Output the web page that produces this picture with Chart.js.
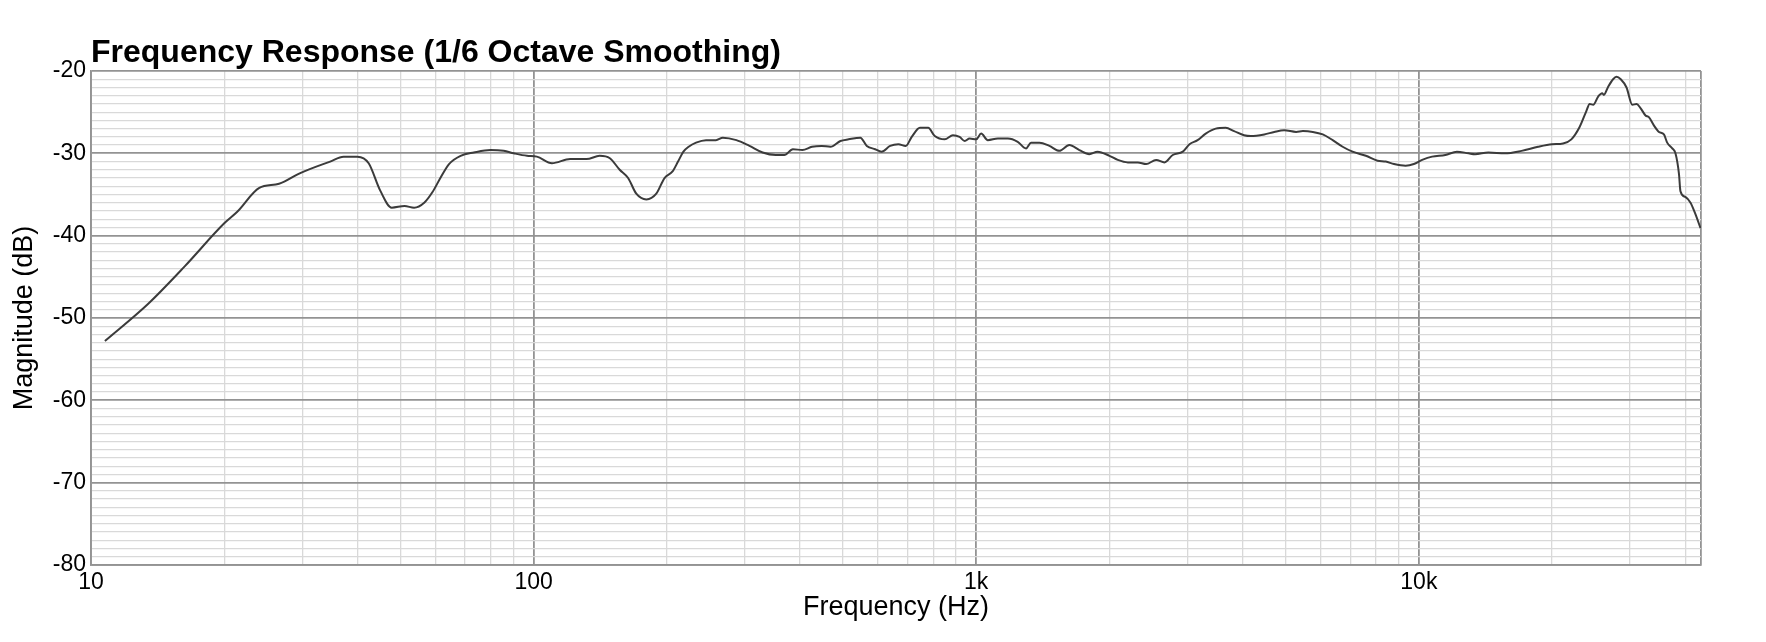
<!DOCTYPE html>
<html>
<head>
<meta charset="utf-8">
<title>Frequency Response</title>
<script src="https://cdn.jsdelivr.net/npm/chart.js@4.4.1/dist/chart.umd.min.js"></script>
<style>
  html, body { margin: 0; padding: 0; background: #fff; }
  #wrap { width: 1766px; height: 642px; }
</style>
</head>
<body>
<div id="wrap"><canvas id="frChart"></canvas></div>
<script>
const freqs = [
  10.75, 13.45, 16.3, 20, 21.4, 24.0, 26.6, 29.7, 34.7, 37.2,
  40, 42.4, 45, 47.8, 51.1, 53.7, 56.6, 59.1, 61.7, 64.4,
  68.4, 73.3, 79.9, 85.6, 90.2, 96.6, 101.7, 110, 120.9, 131.7,
  141, 148.7, 156.5, 163.5, 170.6, 179.8, 189.3, 197.6, 206, 212,
  218, 224, 232.8, 245.2, 258.2, 267.6, 287.2, 307.4, 329.2, 352.4,
  368.5, 385.3, 404.8, 425.6, 447.5, 468.3, 493.4, 514.9, 547.2, 566,
  591, 611, 639, 667, 693, 715, 746, 779, 806, 849,
  886, 917, 942, 966, 1000, 1026, 1062, 1119, 1179, 1241,
  1296, 1330, 1390, 1463, 1541, 1623, 1710, 1801, 1880, 2000,
  2088, 2200, 2318, 2420, 2550, 2663, 2780, 2929, 3033, 3163,
  3300, 3476, 3661, 3824, 4028, 4172, 4475, 4713, 4963, 5283,
  5470, 5760, 6066, 6388, 6727, 7085, 7591, 8065, 8417, 8787,
  9334, 9745, 10174, 10714, 11477, 12192, 12950, 13402, 14355, 15650,
  17065, 18600, 20000, 21180, 22110, 23080, 23890, 24320, 24770, 25420,
  25950, 26180, 26780, 27470, 27950, 28590, 29460, 30360, 31040, 31680,
  32520, 33090, 33960, 34870, 35780, 36400, 37370, 38000, 38700, 39000,
  40000, 41100, 42100, 43300
];
const magnitudes = [
  -52.8, -48.3, -43.7, -38.5, -37.1, -34.2, -33.7, -32.4, -31.0, -30.4,
  -30.4, -31.2, -34.5, -36.6, -36.4, -36.6, -36.0, -34.7, -32.9, -31.3,
  -30.3, -29.9, -29.6, -29.7, -30.0, -30.3, -30.4, -31.2, -30.7, -30.7,
  -30.3, -30.6, -32.0, -33.0, -34.9, -35.6, -34.9, -33.0, -32.2, -31.0,
  -29.8, -29.2, -28.7, -28.4, -28.4, -28.1, -28.4, -29.1, -29.9, -30.2,
  -30.2, -29.5, -29.6, -29.2, -29.1, -29.2, -28.5, -28.3, -28.1, -29.1,
  -29.5, -29.8, -29.1, -28.9, -29.1, -28.0, -26.9, -26.9, -27.9, -28.3,
  -27.8, -28.0, -28.5, -28.2, -28.3, -27.6, -28.4, -28.2, -28.2, -28.6,
  -29.4, -28.7, -28.7, -29.1, -29.7, -29.0, -29.6, -30.1, -29.8, -30.3,
  -30.8, -31.1, -31.1, -31.3, -30.8, -31.1, -30.2, -29.8, -28.9, -28.4,
  -27.6, -27.0, -26.9, -27.3, -27.8, -27.9, -27.7, -27.4, -27.2, -27.4,
  -27.3, -27.4, -27.7, -28.4, -29.2, -29.8, -30.3, -30.9, -31.0, -31.3,
  -31.5, -31.3, -30.8, -30.4, -30.2, -29.8, -30.0, -30.1, -29.9, -30.0,
  -29.7, -29.2, -28.9, -28.8, -28.3, -26.8, -24.9, -24.0, -24.1, -23.1,
  -22.7, -22.9, -21.9, -21.0, -20.7, -21.0, -22.0, -24.1, -24.0, -24.5,
  -25.4, -25.6, -26.6, -27.4, -27.7, -28.7, -29.4, -30.0, -32.5, -34.6,
  -35.3, -36.0, -37.3, -39.1
];

// Axis ticks and labels
const xMin = 10;
const xMax = 43400;
const xTickValues = [10, 100, 1000, 10000];
const xTickLabels = ['10', '100', '1k', '10k'];
const xGridSteps = [1, 2, 3, 4, 5, 6, 7, 8, 9];
const xDecades = [10, 100, 1000, 10000];
const yMin = -80;
const yMax = -20;
const yTickValues = [-80, -70, -60, -50, -40, -30, -20];

const MAJOR = '#939393';
const MINOR = '#d9d9d9';
const FONT = '"Liberation Sans", Arial, Helvetica, sans-serif';

// grid positions: every 1-9 x 10^n on x, every dB on y
const xGrid = [];
xDecades.forEach(d => xGridSteps.forEach(s => {
  if (d * s < xMax) xGrid.push(d * s);
}));
xGrid.push(xMax);
const yGrid = [];
for (let v = yMin; v <= yMax; v++) yGrid.push(v);

const points = freqs.map((f, i) => ({ x: f, y: magnitudes[i] }));

const isXMajor = v => xTickValues.includes(v) || v === xMax;
const isYMajor = v => v % 10 === 0;

const titlePlugin = {
  id: 'plotTitle',
  afterDraw(chart) {
    const { ctx, chartArea } = chart;
    ctx.save();
    ctx.font = 'bold 32px ' + FONT;
    ctx.fillStyle = '#000';
    ctx.textAlign = 'left';
    ctx.textBaseline = 'alphabetic';
    ctx.fillText('Frequency Response (1/6 Octave Smoothing)', chartArea.left, chartArea.top - 9);
    ctx.restore();
  }
};

const frCtx = document.getElementById('frChart').getContext('2d');
new Chart(frCtx, {
  type: 'line',
  data: {
    datasets: [{
      data: points,
      borderColor: '#3b3b3b',
      borderWidth: 2,
      pointRadius: 0,
      cubicInterpolationMode: 'monotone',
      fill: false
    }]
  },
  options: {
    responsive: true,
    maintainAspectRatio: false,
    animation: false,
    layout: { padding: { top: 71, right: 65, bottom: 0, left: 0 } },
    plugins: {
      legend: { display: false },
      tooltip: { enabled: false }
    },
    scales: {
      x: {
        type: 'logarithmic',
        min: xMin,
        max: xMax,
        afterBuildTicks: scale => { scale.ticks = xGrid.map(v => ({ value: v })); },
        afterFit: scale => { scale.height = 77; },
        grid: {
          drawTicks: false,
          color: c => (c.tick && isXMajor(c.tick.value)) ? MAJOR : MINOR,
          lineWidth: c => (c.tick && isXMajor(c.tick.value)) ? 1.8 : 1.3
        },
        border: { display: true, color: MAJOR, width: 1.8 },
        ticks: {
          autoSkip: false,
          maxRotation: 0,
          minRotation: 0,
          padding: 4,
          color: '#000',
          font: { family: FONT, size: 23 },
          callback: value => {
            const i = xTickValues.indexOf(value);
            return i >= 0 ? xTickLabels[i] : '';
          }
        },
        title: {
          display: true,
          text: 'Frequency (Hz)',
          color: '#000',
          font: { family: FONT, size: 27 },
          padding: { top: 0, bottom: 18 }
        }
      },
      y: {
        type: 'linear',
        min: yMin,
        max: yMax,
        afterBuildTicks: scale => { scale.ticks = yGrid.map(v => ({ value: v })); },
        afterFit: scale => { scale.width = 91; },
        grid: {
          drawTicks: false,
          color: c => (c.tick && isYMajor(c.tick.value)) ? MAJOR : MINOR,
          lineWidth: c => (c.tick && isYMajor(c.tick.value)) ? 1.8 : 1.3
        },
        border: { display: true, color: MAJOR, width: 1.8 },
        ticks: {
          autoSkip: false,
          padding: 5,
          color: '#000',
          font: { family: FONT, size: 23 },
          callback: value => yTickValues.includes(value) ? String(value) : ''
        },
        title: {
          display: true,
          text: 'Magnitude (dB)',
          color: '#000',
          font: { family: FONT, size: 27 },
          padding: { top: 8, bottom: 0 }
        }
      }
    }
  },
  plugins: [titlePlugin]
});
</script>
</body>
</html>
